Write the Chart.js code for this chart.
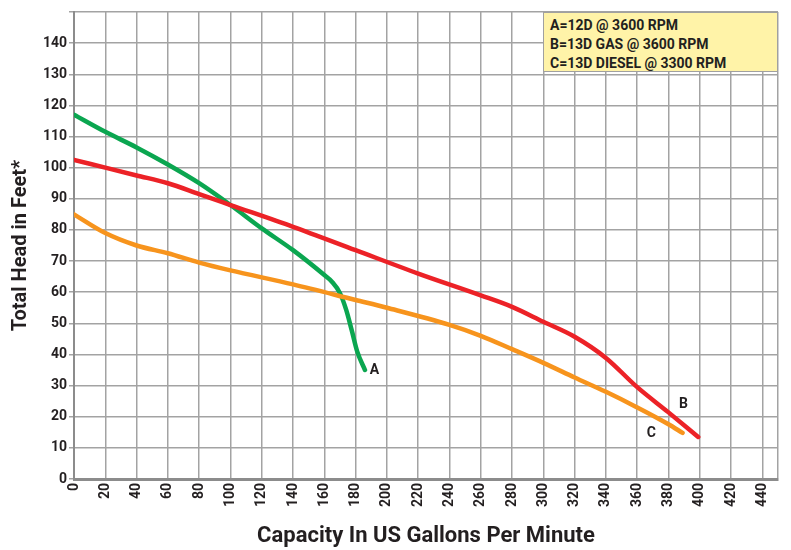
<!DOCTYPE html>
<html>
<head>
<meta charset="utf-8">
<script src="https://cdn.jsdelivr.net/npm/chart.js@4.4.1/dist/chart.umd.min.js"></script>
<style>
  body { margin: 0; background: #fff; }
  #wrap { position: relative; width: 791px; height: 550px; }
  #key {
    position: absolute; left: 543px; top: 12px; width: 235px; height: 60px;
    background: #fff3a8; border: 1.5px solid #a0a0a0;
    font-family: 'Liberation Sans Narrow', 'Roboto', sans-serif; font-weight: bold;
    font-size: 14px; line-height: 19px; color: #231f20; padding: 3px 0 0 6px; box-sizing: border-box;
  }
</style>
</head>
<body>
<div id="wrap">
  <canvas id="myChart" width="791" height="550"></canvas>
  <div id="key">A=12D @ 3600 RPM<br>B=13D GAS @ 3600 RPM<br>C=13D DIESEL @ 3300 RPM</div>
</div>
<script>
// capacity (gpm) and head (ft)
const gpmA  = [0, 20, 40, 60, 80, 100, 120, 140, 160, 165, 170, 174, 177.5, 181, 186];
const headA = [117, 111.5, 106.5, 101, 95, 88, 80.5, 73.5, 65.5, 63.3, 59.7, 54.3, 47.8, 41, 35];

const gpmB  = [0, 20, 40, 60, 80, 100, 140, 180, 220, 260, 280, 300, 320, 340, 360, 380, 399];
const headB = [102.5, 100, 97.5, 95, 91.5, 88, 81, 73.5, 66, 59, 55.3, 50.5, 45.7, 38.9, 29.5, 21.4, 13.5];

const gpmC  = [0, 20, 40, 60, 80, 100, 140, 180, 200, 240, 260, 280, 300, 320, 340, 360, 380, 389];
const headC = [85, 79, 75, 72.5, 69.5, 67, 62.5, 57.5, 55, 49.5, 46, 41.7, 37.3, 32.6, 28, 23, 17.6, 14.8];

const xTicks = [0, 20, 40, 60, 80, 100, 120, 140, 160, 180, 200, 220, 240, 260, 280, 300, 320, 340, 360, 380, 400, 420, 440];

const curveNames = ["A", "B", "C"];
const labelSpots = [[192, 35], [389.5, 23.8], [369, 14.7]];

function pts(xs, ys){
    let out = [];
    for (let i=0; i<xs.length; i++){
        out.push({x: xs[i], y: ys[i]});
    }
    return out;
}

const FONT = "'Liberation Sans Narrow', 'Roboto', sans-serif";
const INK = "#231f20";
const GRID = "#a3a3a3";

const curveLabels = {
    id: "curveLabels",
    afterDatasetsDraw(chart){
        const ctx = chart.ctx;
        const xs = chart.scales.x, ys = chart.scales.y;
        ctx.save();
        ctx.font = "bold 14px " + FONT;
        ctx.fillStyle = INK;
        ctx.textAlign = "center";
        ctx.textBaseline = "middle";
        for (let i=0; i<curveNames.length; i++){
            ctx.fillText(curveNames[i], xs.getPixelForValue(labelSpots[i][0]), ys.getPixelForValue(labelSpots[i][1]));
        }
        ctx.restore();
    }
};

const line = (data, color) => ({
    data: data,
    borderColor: color,
    borderWidth: 4.5,
    pointRadius: 0,
    fill: false,
    cubicInterpolationMode: "monotone",
    borderCapStyle: "round"
});

const config = {
    type: "line",
    data: {
        datasets: [
            line(pts(gpmC, headC), "#f7941d"),
            line(pts(gpmB, headB), "#ec2227"),
            line(pts(gpmA, headA), "#0ba650")
        ]
    },
    options: {
        responsive: false,
        animation: false,
        layout: { padding: { left: 9, right: 13, top: 12, bottom: 0 } },
        plugins: { legend: { display: false }, tooltip: { enabled: false } },
        scales: {
            x: {
                type: "linear",
                min: 0, max: 450,
                afterFit: s => { s.height = 71; s.paddingRight = 0; s.paddingLeft = 0; },
                afterBuildTicks: s => {
                    s.ticks = xTicks.map(v => ({value: v})).concat([{value: 450}]);
                },
                ticks: {
                    minRotation: 90, maxRotation: 90,
                    autoSkip: false,
                    padding: 4,
                    color: INK,
                    font: { family: FONT, size: 14, weight: "bold" },
                    callback: v => (xTicks.includes(v) ? v : "")
                },
                grid: { color: GRID, lineWidth: 1.5, drawTicks: false },
                border: { color: "#8c8c8c", width: 3 },
                title: {
                    display: true,
                    text: "Capacity In US Gallons Per Minute",
                    color: INK,
                    font: { family: FONT, size: 22, weight: "bold" },
                    padding: { top: 6, bottom: 0 }
                }
            },
            y: {
                min: 0, max: 150,
                afterFit: s => { s.width = 65; s.paddingTop = 0; s.paddingBottom = 0; },
                ticks: {
                    stepSize: 10,
                    padding: 2,
                    color: INK,
                    font: { family: FONT, size: 14, weight: "bold" },
                    callback: v => (v === 150 ? "" : v)
                },
                grid: { color: GRID, lineWidth: 1.5, tickLength: 5 },
                border: { color: "#8c8c8c", width: 2 },
                title: {
                    display: true,
                    text: "Total Head in Feet*",
                    color: INK,
                    font: { family: FONT, size: 20, weight: "bold" },
                    padding: { top: 0, bottom: 4 }
                }
            }
        }
    },
    plugins: [curveLabels]
};

const ctx = document.getElementById("myChart").getContext("2d");
let myChart = new Chart(ctx, config);
</script>
</body>
</html>
